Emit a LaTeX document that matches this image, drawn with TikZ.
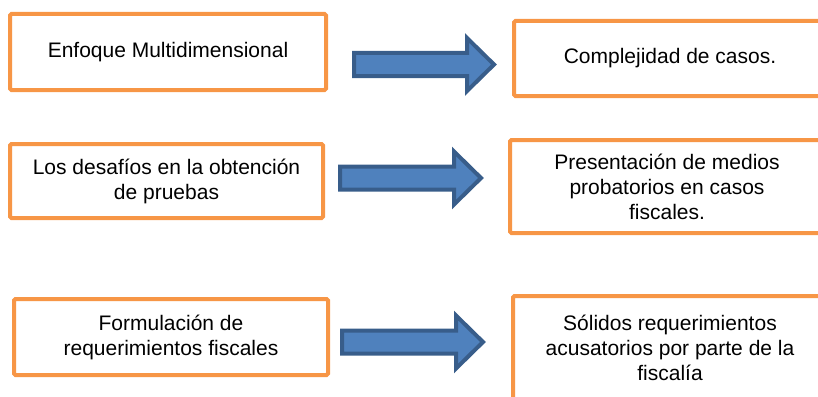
\documentclass[tikz,border=0pt]{standalone}
\usepackage{fontspec}
\setmainfont{Liberation Sans}
\usepackage{xcolor}
\usepackage{tikz}
\usetikzlibrary{calc}
\definecolor{naranja}{HTML}{F79646}
\definecolor{azulrelleno}{HTML}{4F81BD}
\definecolor{azulborde}{HTML}{385D8A}
\tikzstyle{caja} = [rectangle, rounded corners=1.5pt, draw=naranja, line width=4pt, fill=white, align=center, inner sep=0pt, font=\fontsize{21}{25}\selectfont]
\tikzstyle{flecha} = [draw=azulborde, fill=azulrelleno, line width=4pt, line join=miter]
% block arrow from tail coordinate to tip coordinate
\newcommand{\flecha}[2]{\draw [flecha] ($(#1)+(0,-11.5)$) -- ($(#2)+(-27,-11.5)$) -- ($(#2)+(-27,-26.5)$) -- (#2) -- ($(#2)+(-27,26.5)$) -- ($(#2)+(-27,11.5)$) -- ($(#1)+(0,11.5)$) -- cycle;}

\begin{document}
\begin{tikzpicture}[x=1pt, y=-1pt]
	
	\useasboundingbox (0,0) rectangle (818,396);
	\clip (0,0) rectangle (818,396);
	
	\node (e1) [caja, minimum width=316pt, minimum height=76pt] at (168,52) {Enfoque Multidimensional};
	\node (r1) [caja, minimum width=312pt, minimum height=75pt] at (670,58.5) {Complejidad de casos.};
	
	\node (e2) [caja, minimum width=313pt, minimum height=74pt] at (166.5,181) {Los desafíos en la obtención\\de pruebas};
	\node (r2) [caja, minimum width=314pt, minimum height=93pt] at (667,186.5) {Presentación de medios\\probatorios en casos\\fiscales.};
	
	\node (e3) [caja, minimum width=314pt, minimum height=76pt] at (171,337) {Formulación de\\requerimientos fiscales};
	\node (r3) [caja, minimum width=314pt, minimum height=104pt] at (670,348) {Sólidos requerimientos\\acusatorios por parte de la\\fiscalía};
	
	\coordinate (t1) at (354,64.5);
	\coordinate (p1) at (494,64.5);
	\coordinate (t2) at (340,178);
	\coordinate (p2) at (481,178);
	\coordinate (t3) at (342,342);
	\coordinate (p3) at (483,342);
	
	\flecha{t1}{p1}
	\flecha{t2}{p2}
	\flecha{t3}{p3}
	
\end{tikzpicture}
\end{document}
